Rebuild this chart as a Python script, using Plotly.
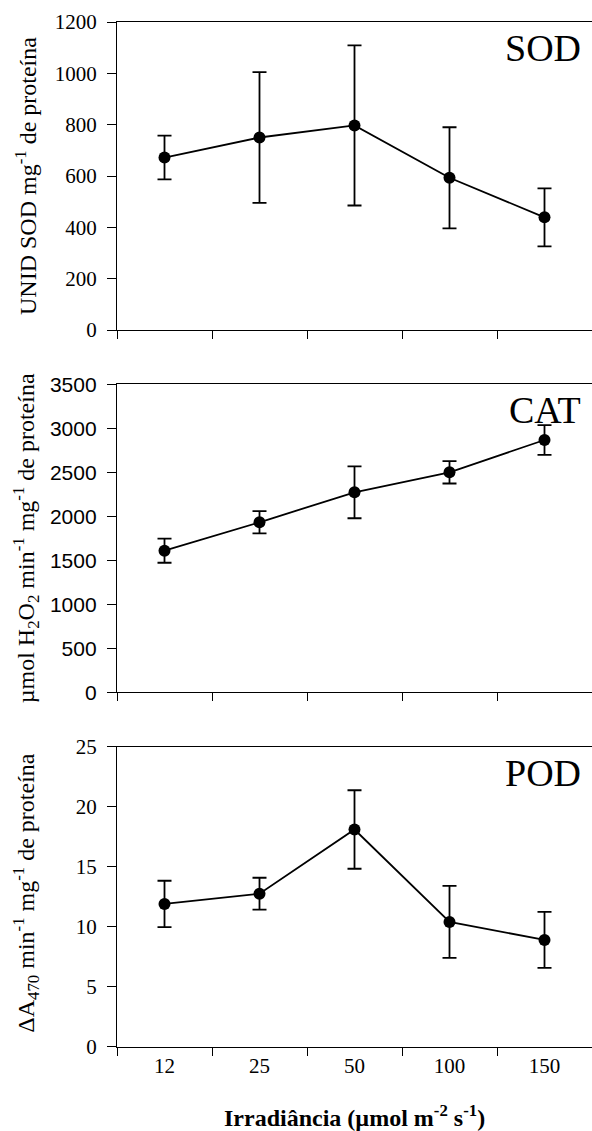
import plotly.graph_objects as go

# Irradiance levels (µmol m-2 s-1)
irradiance = ["12", "25", "50", "100", "150"]

# Superoxide dismutase activity
sod_mean = [672, 750, 797, 593, 439]
sod_err = [85, 255, 312, 197, 113]

# Catalase activity
cat_mean = [1609, 1932, 2273, 2500, 2867]
cat_err = [137, 127, 295, 127, 170]

# Peroxidase activity
pod_mean = [11.9, 12.75, 18.1, 10.4, 8.9]
pod_err = [1.93, 1.33, 3.27, 3.0, 2.33]

W, H = 592, 1131
SERIF = "Liberation Serif, Times New Roman, serif"
SANS = "Liberation Sans, Arial, sans-serif"

panels = [
    dict(mean=sod_mean, err=sod_err, top=22, bottom=330, rng=[0, 1200], dtick=200,
         tickfont=SERIF, tag="SOD",
         title="UNID SOD mg<sup>-1</sup> de proteína"),
    dict(mean=cat_mean, err=cat_err, top=384.3, bottom=692.3, rng=[0, 3500], dtick=500,
         tickfont=SANS, tag="CAT",
         title="µmol H<sub>2</sub>O<sub>2</sub> min<sup>-1</sup> mg<sup>-1</sup> de proteína"),
    dict(mean=pod_mean, err=pod_err, top=746.7, bottom=1046.7, rng=[0, 25], dtick=5,
         tickfont=SERIF, tag="POD",
         title="ΔA<sub>470</sub> min<sup>-1</sup> mg<sup>-1</sup> de proteína"),
]

fig = go.Figure()
layout = dict(
    width=W, height=H,
    margin=dict(l=0, r=0, t=0, b=0),
    paper_bgcolor="white", plot_bgcolor="white",
    showlegend=False,
)
annotations = []

x0 = 117 / W
for i, p in enumerate(panels, start=1):
    sx = "" if i == 1 else str(i)
    fig.add_trace(go.Scatter(
        x=irradiance, y=p["mean"],
        xaxis="x" + sx, yaxis="y" + sx,
        mode="lines+markers",
        line=dict(color="black", width=1.8),
        marker=dict(color="black", size=12),
        error_y=dict(type="data", array=p["err"], visible=True,
                     color="black", thickness=1.8, width=7),
        cliponaxis=False,
    ))
    y_lo = 1 - p["bottom"] / H
    y_hi = 1 - p["top"] / H
    last = i == len(panels)
    layout["xaxis" + sx] = dict(
        domain=[x0, 1.0], anchor="y" + sx,
        type="category", range=[-0.5, 4.5],
        tickson="boundaries", ticks="outside", ticklen=8, tickwidth=1.3,
        tickcolor="black",
        showline=True, linecolor="black", linewidth=1.3, mirror=True,
        showgrid=False, zeroline=False,
        showticklabels=last,
        tickfont=dict(family=SERIF, size=21, color="black"),
        automargin=False,
    )
    layout["yaxis" + sx] = dict(
        domain=[y_lo, y_hi], anchor="x" + sx,
        range=p["rng"], dtick=p["dtick"],
        ticks="outside", ticklen=9, tickwidth=1.3, tickcolor="black",
        showline=True, linecolor="black", linewidth=1.3,
        showgrid=False, zeroline=False,
        tickfont=dict(family=p["tickfont"], size=21, color="black"),
        ticklabelstandoff=6,
        automargin=False,
    )
    # enzyme name in the upper right corner
    annotations.append(dict(
        text=p["tag"], xref="paper", yref="paper",
        x=583 / W, y=y_hi - 26 / H, xanchor="right", yanchor="middle",
        showarrow=False, font=dict(family=SERIF, size=38, color="black"),
    ))
    # rotated y-axis title
    annotations.append(dict(
        text=p["title"], xref="paper", yref="paper",
        x=26 / W, y=(y_lo + y_hi) / 2 + (4 / H if i == 3 else 0),
        xanchor="center", yanchor="middle", textangle=-90,
        showarrow=False, font=dict(family=SERIF, size=24, color="black"),
    ))

# x-axis title under the bottom panel
annotations.append(dict(
    text="<b>Irradiância (µmol m<sup>-2</sup> s<sup>-1</sup>)</b>",
    xref="paper", yref="paper",
    x=354 / W, y=1 - 1116 / H, xanchor="center", yanchor="middle",
    showarrow=False, font=dict(family=SERIF, size=24, color="black"),
))

layout["annotations"] = annotations
fig.update_layout(**layout)
fig.write_html("out.html")
